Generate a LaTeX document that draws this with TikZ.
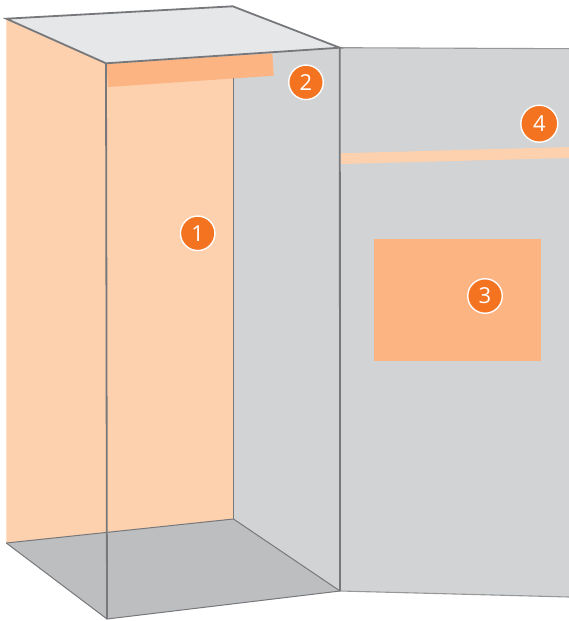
\documentclass[tikz,border=0pt]{standalone}
\usepackage{fontspec}
\setmainfont{Open Sans}
\definecolor{peach}{HTML}{FDD0AE}
\definecolor{peachdark}{HTML}{FBB482}
\definecolor{wallgray}{HTML}{D1D3D4}
\definecolor{topgray}{HTML}{E6E7E8}
\definecolor{floorgray}{HTML}{BCBEC0}
\definecolor{badge}{HTML}{F47321}
\definecolor{edgegray}{HTML}{77787B}
\tikzset{
  badgenode/.style={circle,fill=badge,draw=white,line width=1.4pt,minimum size=34.5pt,inner sep=0pt,text=white,font=\fontsize{22}{22}\selectfont},
  heavy/.style={draw=edgegray,line width=1.8pt},
  light/.style={draw=edgegray,line width=1pt},
  pale/.style={draw=floorgray!80!black,line width=1.1pt}
}
\begin{document}
\begin{tikzpicture}[x=1pt,y=-1pt]
\useasboundingbox (0,0) rectangle (569,621);
\coordinate (A) at (6.3,18.7);
\coordinate (B) at (232.7,6.3);
\coordinate (C) at (339.8,47.7);
\coordinate (D) at (106,63.3);
\coordinate (E) at (6.3,543);
\coordinate (G) at (233.5,519);
\coordinate (H) at (107,619);
\coordinate (J) at (340,591);
\coordinate (R1) at (569,48.7);
\coordinate (R2) at (569,597);
% back wall and right panel
\fill[wallgray] (233.5,55) -- (C) -- (J) -- (G) -- cycle;
\fill[wallgray] (C) -- (R1) -- (R2) -- (J) -- cycle;
% peach wall
\fill[peach] (A) -- (D) -- (233.5,55) -- (G) -- (E) -- cycle;
% floor
\fill[floorgray] (E) -- (G) -- (J) -- (H) -- cycle;
% roof
\fill[topgray] (A) -- (B) -- (C) -- (D) -- cycle;
% highlighted bands
\fill[peachdark] (106.7,64) -- (272.3,53.3) -- (273.7,75.7) -- (108,87) -- cycle;
\fill[peach] (340.7,153.3) -- (569,147) -- (569,158) -- (340.7,164) -- cycle;
\fill[peachdark] (374,239) rectangle (541,361);
% edges
\draw[light] (233.5,78) -- (G);
\draw[light] (E) -- (G);
\draw[light] (G) -- (J);
\draw[light] (E) -- (H);
\draw[light] (H) -- (J);
\draw[pale] (J) -- (R2);
\draw[pale] (C) -- (R1);
\draw[heavy] (A) -- (B) -- (C) -- (D) -- cycle;
\draw[heavy] (D) -- (H);
\draw[heavy] (C) -- (J);
% badges
\node[badgenode] (n1) at (197.7,233.3) {1};
\node[badgenode] (n2) at (306,82.3) {2};
\node[badgenode] (n3) at (485,296) {3};
\node[badgenode,minimum size=37pt] (n4) at (539.3,123.7) {4};
\end{tikzpicture}
\end{document}
